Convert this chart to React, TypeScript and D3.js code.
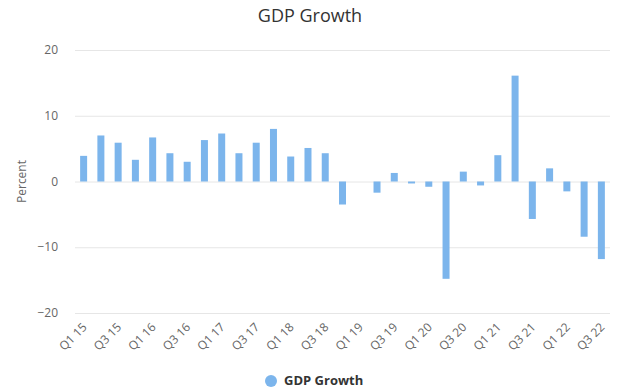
import React, { useEffect, useRef } from 'react';
import * as d3 from 'd3';

// quarters Q1 15 .. Q3 22
const years = ['15', '16', '17', '18', '19', '20', '21', '22'];
const quarters = ['Q1', 'Q2', 'Q3', 'Q4'];
const categories: string[] = [];
years.forEach(y => quarters.forEach(q => categories.push(q + ' ' + y)));
categories.splice(31);

const growth = [
  3.9, 7.0, 5.9, 3.3, 6.7, 4.3, 3.0, 6.3,
  7.3, 4.3, 5.9, 8.0, 3.8, 5.1, 4.3, -3.5,
  0.0, -1.7, 1.3, -0.3, -0.8, -14.8, 1.5, -0.6,
  4.0, 16.1, -5.7, 2.0, -1.5, -8.4, -11.8,
];

const yTicks = [-20, -10, 0, 10, 20];

const W = 620, H = 390;
const FONT = '"Open Sans", "DejaVu Sans", sans-serif';

export default function App() {
  const ref = useRef<SVGSVGElement>(null);

  useEffect(() => {
    const svg = d3.select(ref.current);
    svg.selectAll('*').remove();

    const x = d3.scaleBand<string>().domain(categories).range([75, 610]);
    const y = d3.scaleLinear().domain([-20, 20]).range([313, 50]);
    const barW = 7;

    // title
    svg.append('text')
      .attr('x', W / 2).attr('y', 22)
      .attr('text-anchor', 'middle')
      .style('font-family', FONT).style('font-size', '18px').style('fill', '#333')
      .text('GDP Growth');

    // grid lines
    svg.append('g').selectAll('line').data(yTicks).enter().append('line')
      .attr('x1', 75).attr('x2', 610)
      .attr('y1', d => y(d) + 0.5).attr('y2', d => y(d) + 0.5)
      .attr('stroke', '#e6e6e6').attr('stroke-width', 1);

    // y labels
    svg.append('g').selectAll('text').data(yTicks).enter().append('text')
      .attr('x', 58).attr('y', d => y(d) + 4)
      .attr('text-anchor', 'end')
      .style('font-family', FONT).style('font-size', '12px').style('fill', '#666')
      .text(d => (d < 0 ? '\u2212' + Math.abs(d) : String(d)));

    svg.append('text')
      .attr('transform', `translate(26,${y(0)}) rotate(-90)`)
      .attr('text-anchor', 'middle')
      .style('font-family', FONT).style('font-size', '12px').style('fill', '#666')
      .text('Percent');

    // bars
    svg.append('g').selectAll('rect').data(growth).enter().append('rect')
      .attr('x', (d, i) => (x(categories[i]) as number) + x.bandwidth() / 2 - barW / 2)
      .attr('width', barW)
      .attr('y', d => Math.min(y(d), y(0)))
      .attr('height', d => Math.abs(y(d) - y(0)))
      .attr('fill', '#7cb5ec');

    // x labels, every other quarter
    svg.append('g').selectAll('text')
      .data(categories.filter((c, i) => i % 2 === 0)).enter().append('text')
      .attr('transform', d => `translate(${(x(d) as number) + x.bandwidth() / 2 + 4},${328}) rotate(-45)`)
      .attr('text-anchor', 'end')
      .style('font-family', FONT).style('font-size', '12px').style('fill', '#666')
      .text(d => d);

    // legend
    svg.append('circle').attr('cx', 271).attr('cy', 381).attr('r', 6).attr('fill', '#7cb5ec');
    svg.append('text')
      .attr('x', 284).attr('y', 385)
      .style('font-family', FONT).style('font-size', '13px').style('font-weight', 'bold').style('fill', '#333')
      .text('GDP Growth');
  }, []);

  return (
    <svg ref={ref} width={W} height={H} style={{ position: 'absolute', left: 0, top: 0, background: '#fff' }} />
  );
}
